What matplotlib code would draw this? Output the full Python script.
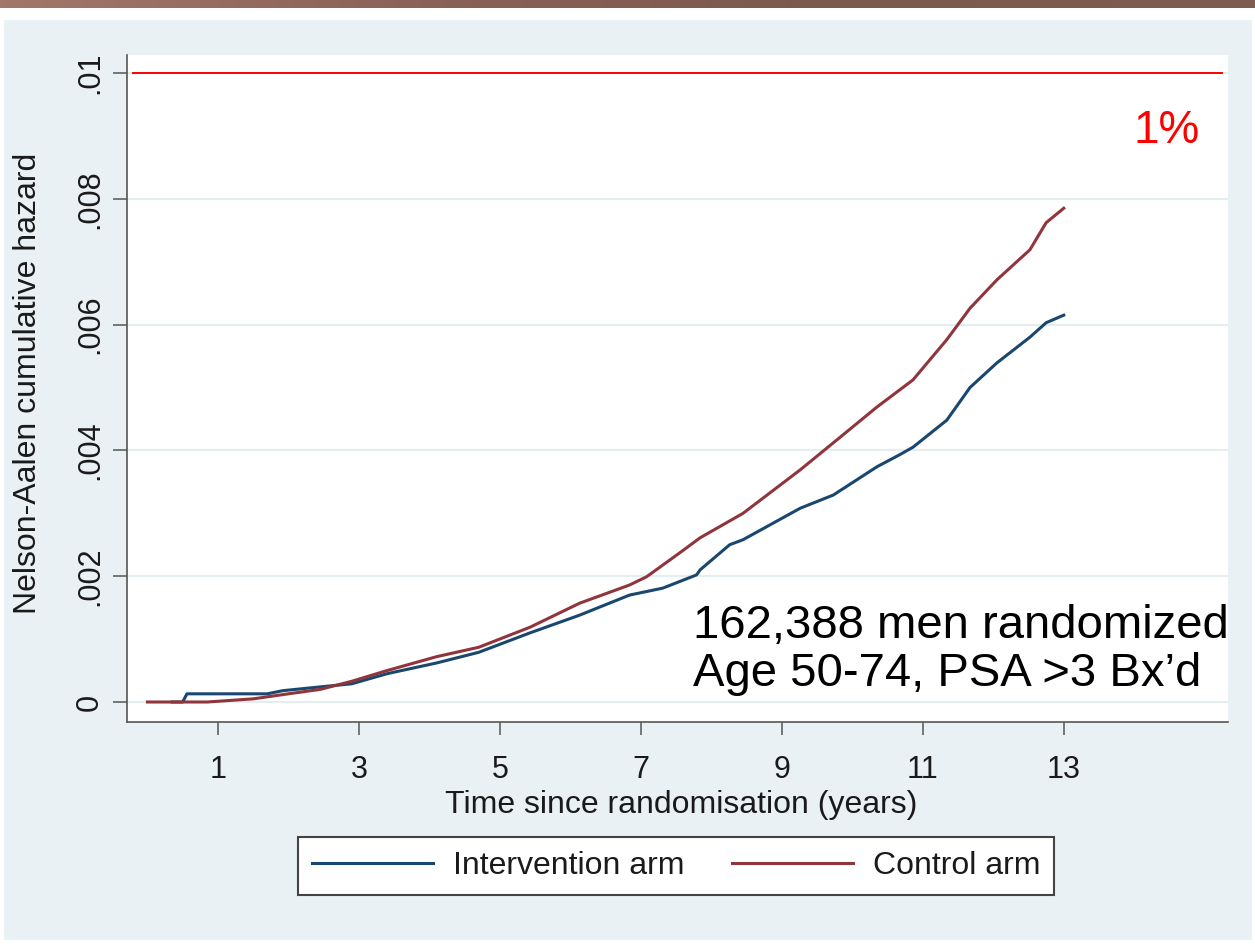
import numpy as np
import matplotlib.pyplot as plt
from matplotlib.patches import Rectangle
from matplotlib.colors import LinearSegmentedColormap

plt.rcParams['font.family'] = ['Liberation Sans', 'DejaVu Sans']

# Nelson-Aalen cumulative hazard
t_int = [0.35, 0.5, 0.56, 1.7, 1.92, 2.45, 2.9, 3.4, 4.1, 4.7, 5.43, 6.13, 6.84,
         7.31, 7.79, 7.84, 8.26, 8.45, 9.26, 9.73, 10.35, 10.67, 10.86, 11.34,
         11.67, 12.05, 12.52, 12.75, 13.0]
h_int = [0.0, 0.0, 0.00013, 0.00013, 0.00018, 0.00024, 0.00029, 0.00045, 0.00062,
         0.00079, 0.0011, 0.00138, 0.0017, 0.00181, 0.00202, 0.0021, 0.0025,
         0.00258, 0.00308, 0.00329, 0.00374, 0.00393, 0.00405, 0.00448, 0.005,
         0.00539, 0.0058, 0.00603, 0.00615]

t_ctl = [0.0, 0.85, 1.5, 2.0, 2.45, 2.9, 3.4, 4.1, 4.7, 5.43, 6.13, 6.84, 7.08,
         7.55, 7.84, 8.45, 9.26, 9.73, 10.35, 10.67, 10.86, 11.34, 11.67, 12.05,
         12.52, 12.75, 13.0]
h_ctl = [0.0, 0.0, 0.00005, 0.00013, 0.0002, 0.00033, 0.0005, 0.00072, 0.00087,
         0.00119, 0.00157, 0.00186, 0.00199, 0.00237, 0.00261, 0.003, 0.00369,
         0.00412, 0.00469, 0.00496, 0.00512, 0.00576, 0.00626, 0.00671, 0.00719,
         0.00762, 0.00785]

x_ticks = [1, 3, 5, 7, 9, 11, 13]
y_ticks = [0, 0.002, 0.004, 0.006, 0.008, 0.01]
y_ticklabels = ['0', '.002', '.004', '.006', '.008', '.01']
threshold = 0.01

navy = '#1a476f'
maroon = '#90353b'
bg = '#eaf1f4'

W, H = 1255, 946
fig = plt.figure(figsize=(W / 100, H / 100), dpi=100, facecolor='white')

# light graph region behind everything
fig.patches.append(Rectangle((4 / W, 1 - 940 / H), 1248 / W, 920 / H,
                             transform=fig.transFigure, facecolor=bg,
                             edgecolor='none', zorder=-10))

# brown banner on top
bar = fig.add_axes([0, 1 - 8 / H, 1, 8 / H])
grad = np.linspace(0, 1, 256)[None, :]
cmap = LinearSegmentedColormap.from_list('bar', ['#a3766a', '#8a6257', '#7a594f', '#7d5c52'])
bar.imshow(grad, aspect='auto', cmap=cmap)
bar.axis('off')

ax = fig.add_axes([127 / W, 1 - 722 / H, (1228 - 127) / W, (722 - 55) / H])
ax.set_facecolor('white')

ax.plot(t_int, h_int, color=navy, lw=2.2, label='Intervention arm', zorder=3)
ax.plot(t_ctl, h_ctl, color=maroon, lw=2.2, label='Control arm', zorder=3)
ax.axhline(threshold, xmin=0.005, xmax=0.995, color='red', lw=1.4, zorder=4)

ax.set_xlim(-0.29, 15.33)
ax.set_ylim(-0.000318, 0.010286)
ax.set_yticks(y_ticks)
ax.set_yticklabels(y_ticklabels, rotation=90, va='center')
ax.set_xticks(x_ticks)
ax.grid(axis='y', color='#e4edf0', lw=1.5, zorder=0)
ax.set_axisbelow(True)

for s in ['top', 'right']:
    ax.spines[s].set_visible(False)
for s in ['left', 'bottom']:
    ax.spines[s].set_color('#555555')
    ax.spines[s].set_linewidth(1.2)
ax.tick_params(axis='y', length=10, width=1.1, color='#555555', pad=6,
               labelsize=22, labelcolor='#1a1a1a')
ax.tick_params(axis='x', length=9, width=1.1, color='#555555', pad=15,
               labelsize=22, labelcolor='#1a1a1a')

ax.text(14.46, 0.00908, '1%', color='red', fontsize=33, ha='center', va='center')
ax.text(7.74, 0.00083, '162,388 men randomized\nAge 50-74, PSA >3 Bx\u2019d',
        fontsize=34, ha='left', va='center', linespacing=1.12, color='black')

fig.text(28 / W, 1 - 383 / H, 'Nelson-Aalen cumulative hazard', rotation=90,
         ha='center', va='center', fontsize=23, color='#1a1a1a')
fig.text(681 / W, 1 - 805 / H, 'Time since randomisation (years)',
         ha='center', va='center', fontsize=23, color='#1a1a1a')

leg = fig.legend(loc='center', bbox_to_anchor=(676 / W, 1 - 866 / H), ncol=2,
                 fontsize=23, frameon=True, fancybox=False, handlelength=3.8,
                 handletextpad=0.6, columnspacing=1.5, borderpad=0.45,
                 framealpha=1, facecolor='white')
leg.get_frame().set_edgecolor('#444444')
leg.get_frame().set_linewidth(1.5)
for txt in leg.get_texts():
    txt.set_color('#1a1a1a')

fig.savefig('out.png', dpi=100, facecolor='white')
